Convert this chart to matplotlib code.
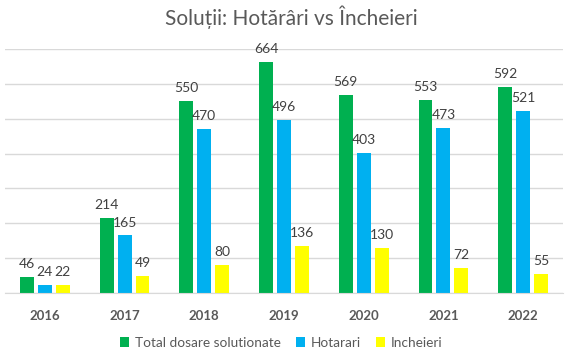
import numpy as np
import matplotlib.pyplot as plt

years = ["2016", "2017", "2018", "2019", "2020", "2021", "2022"]
total = [46, 214, 550, 664, 569, 553, 592]
hotarari = [24, 165, 470, 496, 403, 473, 521]
incheieri = [22, 49, 80, 136, 130, 72, 55]

series = [("Total dosare solutionate", total, "#00B050"),
          ("Hotarari", hotarari, "#00B0F0"),
          ("Incheieri", incheieri, "#FFFF00")]

plt.rcParams['font.family'] = ['Lato', 'DejaVu Sans']

fig = plt.figure(figsize=(5.82, 3.61), dpi=100)
ax = fig.add_axes([5/582, 1-293/361, 558/582, 244/361])

x = np.arange(len(years))
w = 0.175
step = 0.225
for i, (name, vals, col) in enumerate(series):
    pos = x + (i - 1) * step
    bars = ax.bar(pos, vals, width=w, color=col, label=name, zorder=2)
    for b, v in zip(bars, vals):
        ax.text(b.get_x() + b.get_width()/2, v + 20, str(v), ha='center', va='bottom',
                fontsize=10, color='#404040')

ax.set_xlim(-0.5, len(years) - 0.5)
ax.set_ylim(0, 700)
ax.set_yticks(np.arange(0, 701, 100))
ax.yaxis.grid(True, color='#D9D9D9', linewidth=1, zorder=0)
ax.set_axisbelow(True)
for s in ['top', 'left', 'right']:
    ax.spines[s].set_visible(False)
ax.spines['bottom'].set_color('#D9D9D9')
ax.tick_params(axis='y', left=False, labelleft=False)
ax.tick_params(axis='x', bottom=False, pad=9)
ax.set_xticks(x)
ax.set_xticklabels(years, fontsize=9.5, fontweight='bold', color='#595959')

fig.text(0.5, 1-17/361, "Soluții: Hotărâri vs Încheieri", ha='center', va='center',
         fontsize=15, color='#595959')

fig.legend(loc='center', bbox_to_anchor=(281/582, 1-343/361), ncol=3, frameon=False,
           handlelength=0.7, handleheight=0.7, handletextpad=0.4, columnspacing=1.1,
           prop={'size': 9.8}, labelcolor='#595959')

fig.savefig("out.png", dpi=100)
